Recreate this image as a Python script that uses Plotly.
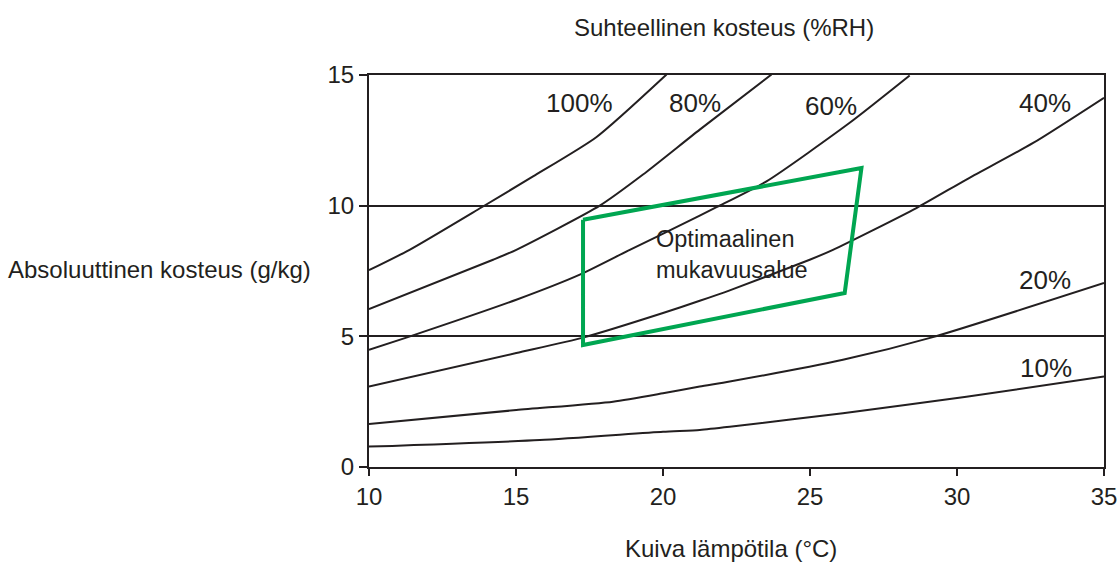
import plotly.graph_objects as go

# Relative humidity curves: dry temperature (°C) vs absolute humidity (g/kg)
rh_names = ["100%", "80%", "60%", "40%", "20%", "10%"]

rh100_x = [10, 11.38, 13.82, 15.58, 17.73, 20.12]
rh100_y = [7.53, 8.31, 9.93, 11.12, 12.62, 15.02]

rh80_x = [10, 14.22, 15.01, 17.85, 19.32, 21.25, 23.69]
rh80_y = [6.04, 7.93, 8.31, 10.0, 11.19, 12.91, 15.02]

rh60_x = [10, 11.27, 15.01, 17.17, 18.87, 20.68, 21.82, 23.52, 26.35, 28.39]
rh60_y = [4.48, 4.95, 6.40, 7.36, 8.31, 9.30, 9.94, 10.93, 13.17, 14.98]

rh40_x = [10, 15.01, 17.28, 20.0, 21.25, 22.27, 24.99, 25.78, 28.62, 30.32, 32.59, 35.0]
rh40_y = [3.08, 4.36, 4.95, 5.89, 6.36, 6.76, 7.93, 8.31, 9.91, 11.0, 12.40, 14.13]

rh20_x = [10, 15.01, 18.30, 20.0, 21.25, 22.27, 26.12, 29.18, 35.0]
rh20_y = [1.65, 2.18, 2.50, 2.82, 3.08, 3.27, 4.10, 4.97, 7.04]

rh10_x = [10, 15.81, 20.0, 21.25, 22.27, 26.12, 30.32, 35.0]
rh10_y = [0.78, 1.03, 1.35, 1.42, 1.54, 2.06, 2.69, 3.46]

# Label positions for the curves
label_x = [17.17, 21.08, 25.70, 32.98, 33.0, 33.03]
label_y = [13.91, 13.91, 13.83, 13.91, 7.16, 3.77]

# Optimal comfort zone polygon
zone_x = [17.28, 26.75, 26.18, 17.28, 17.28]
zone_y = [9.46, 11.44, 6.66, 4.67, 9.46]
zone_text = "Optimaalinen<br>mukavuusalue"

x_ticks = [10, 15, 20, 25, 30, 35]
y_ticks = [0, 5, 10, 15]

FONT = "Liberation Sans, Arial, Helvetica, sans-serif"
INK = "#231f20"

fig = go.Figure()
for xs, ys in [(rh100_x, rh100_y), (rh80_x, rh80_y), (rh60_x, rh60_y),
               (rh40_x, rh40_y), (rh20_x, rh20_y), (rh10_x, rh10_y)]:
    fig.add_trace(go.Scatter(x=xs, y=ys, mode="lines",
                             line=dict(color=INK, width=2, shape="spline",
                                       smoothing=0.6),
                             hoverinfo="skip", showlegend=False))

fig.add_trace(go.Scatter(x=zone_x, y=zone_y, mode="lines",
                         line=dict(color="#00a651", width=4),
                         hoverinfo="skip", showlegend=False))

for name, lx, ly in zip(rh_names, label_x, label_y):
    fig.add_annotation(x=lx, y=ly, text=name, showarrow=False,
                       xanchor="center", yanchor="middle",
                       font=dict(family=FONT, size=26, color=INK))

fig.add_annotation(x=19.71, y=8.12, text=zone_text, showarrow=False,
                   xanchor="left", yanchor="middle", align="left",
                   font=dict(family=FONT, size=23.5, color=INK))

fig.add_annotation(xref="paper", yref="paper", x=0.483, y=1.12,
                   text="Suhteellinen kosteus (%RH)", showarrow=False,
                   xanchor="center", yanchor="middle",
                   font=dict(family=FONT, size=24, color=INK))
fig.add_annotation(xref="paper", yref="paper", x=-0.0762, y=0.5026,
                   text="Absoluuttinen kosteus (g/kg)", showarrow=False,
                   xanchor="right", yanchor="middle",
                   font=dict(family=FONT, size=24, color=INK))
fig.add_annotation(xref="paper", yref="paper", x=0.4925, y=-0.209,
                   text="Kuiva lämpötila (°C)", showarrow=False,
                   xanchor="center", yanchor="middle",
                   font=dict(family=FONT, size=24, color=INK))

fig.update_xaxes(range=[10, 35], tickvals=x_ticks, ticks="outside",
                 ticklen=7, tickwidth=2, tickcolor=INK,
                 showline=True, linecolor=INK, linewidth=2, mirror=True,
                 showgrid=False, zeroline=False,
                 tickfont=dict(family=FONT, size=24, color=INK))
fig.update_yaxes(range=[0, 15], tickvals=y_ticks, ticks="outside",
                 ticklen=8, tickwidth=2, tickcolor=INK,
                 showline=True, linecolor=INK, linewidth=2, mirror=True,
                 showgrid=True, gridcolor=INK, gridwidth=2, zeroline=False,
                 ticklabelstandoff=0,
                 tickfont=dict(family=FONT, size=24, color=INK))

fig.update_layout(width=1120, height=563,
                  margin=dict(l=369, r=16, t=75, b=96, autoexpand=False),
                  paper_bgcolor="white", plot_bgcolor="white",
                  showlegend=False)

fig.write_html("out.html", config={"displayModeBar": False},
               post_script="document.body.style.margin='0';"
                           "document.body.style.padding='0';"
                           "document.body.style.overflow='hidden';")
